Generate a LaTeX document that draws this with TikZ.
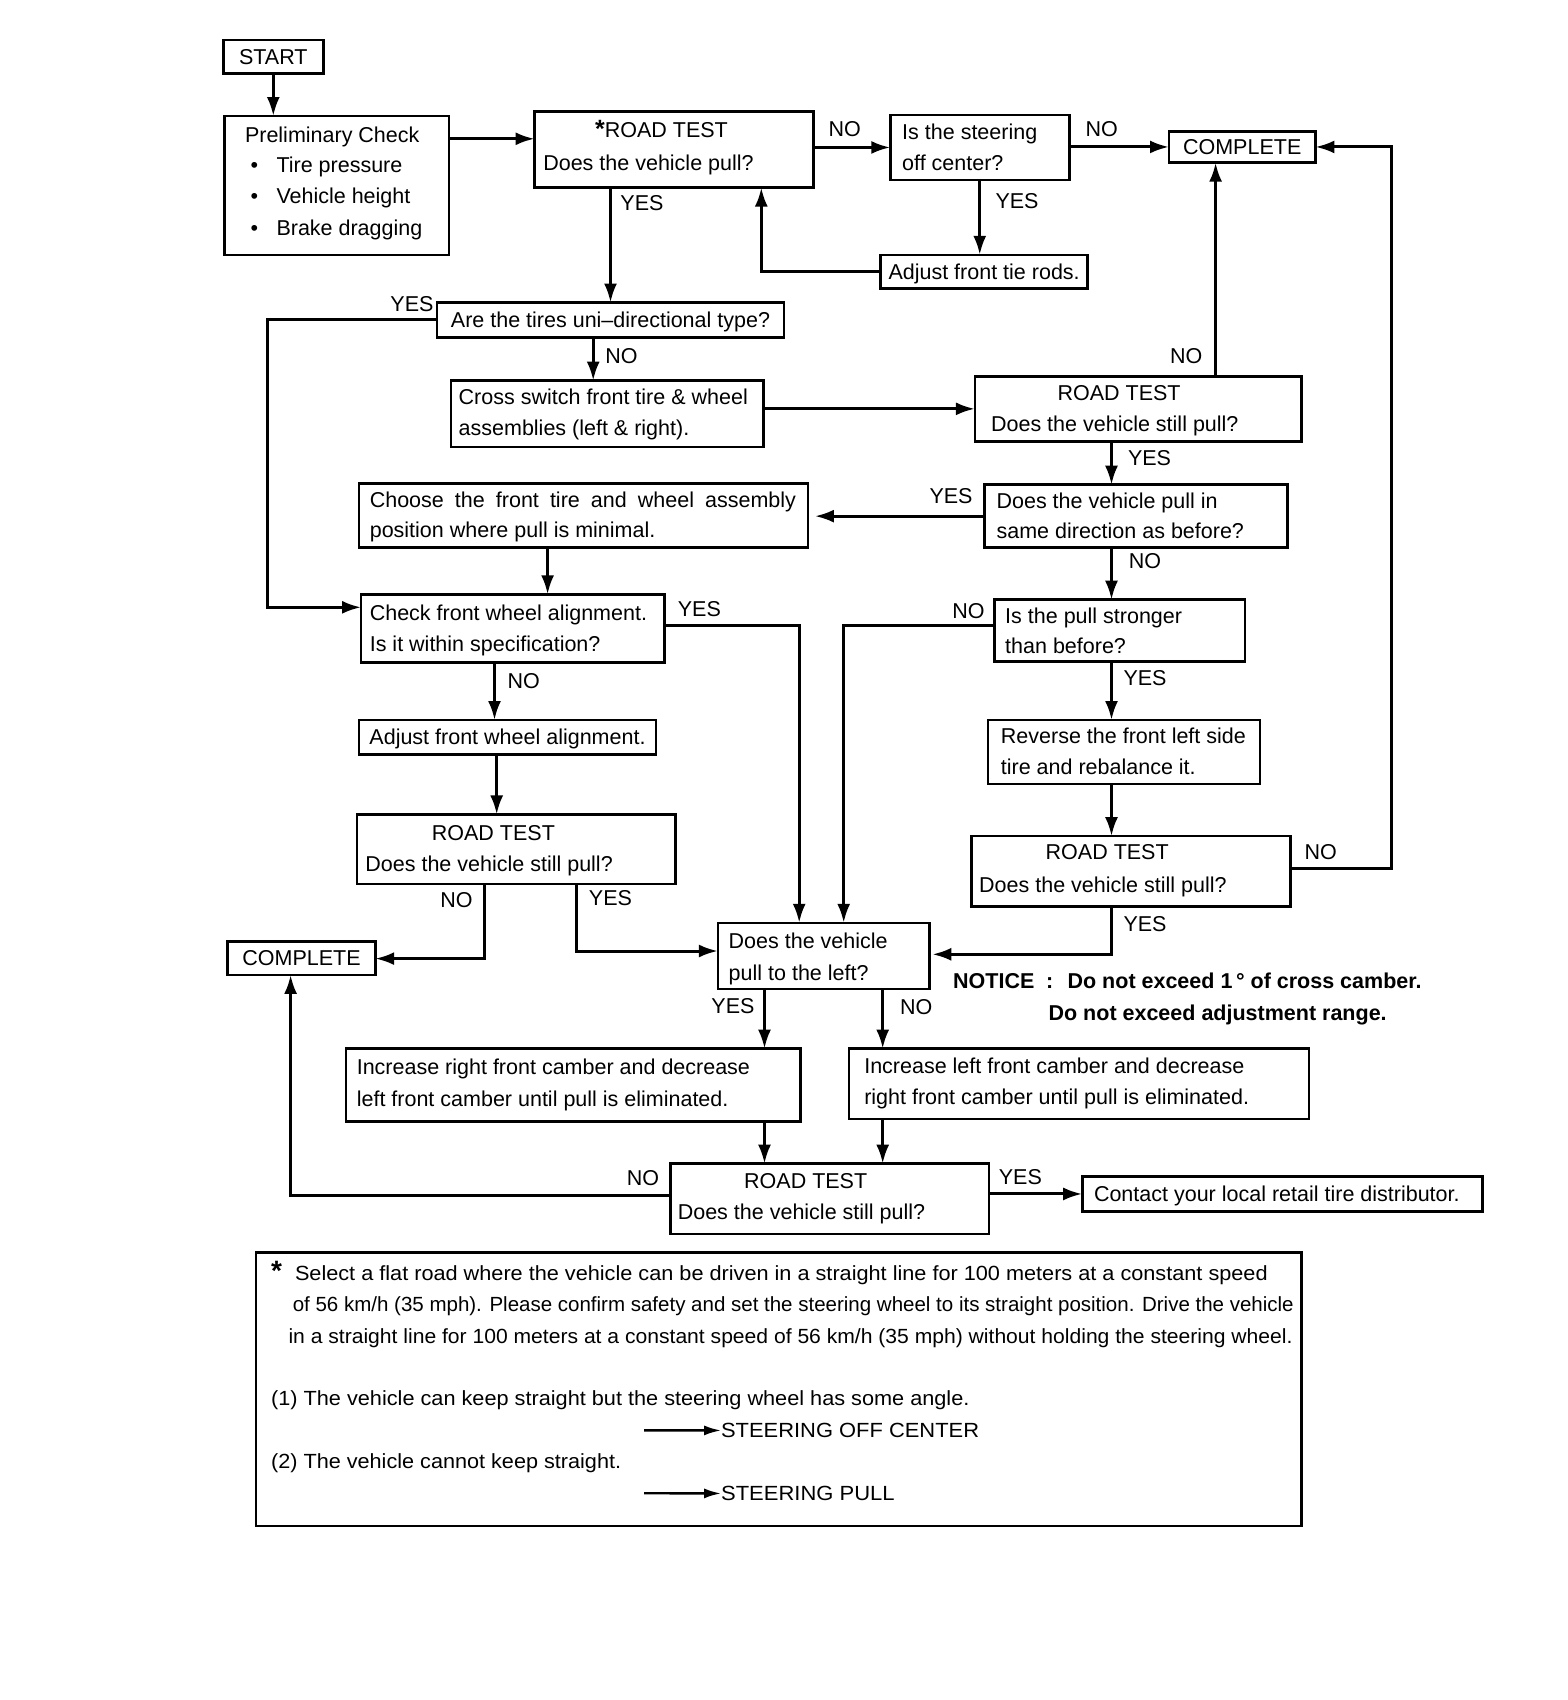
\documentclass[tikz,border=0pt]{standalone}
\usepackage{fontspec}
\setmainfont{Liberation Sans}
\usepackage{graphicx}
\usetikzlibrary{arrows.meta}
\newcommand\mainf{\fontsize{21.5}{26}\selectfont}
\newcommand\footf{\fontsize{20.5}{24}\selectfont}
\newcommand\bx[5]{\node[box, minimum width={#4-#2}, minimum height={#5-#3}] (#1) at ({(#2+#4)/2},{(#3+#5)/2}) {};}
\newcommand\tx[4]{\node[txt] (#1) at (#2,#3) {#4};}
\newcommand\tc[4]{\node[txt,anchor=base] (#1) at (#2,#3) {#4};}
\begin{document}
\begin{tikzpicture}[x=1pt, y=-1pt,
  every node/.style={font=\mainf},
  box/.style={draw, line width=2.6pt, inner sep=0pt, outer sep=0pt},
  txt/.style={inner sep=0pt, outer sep=0pt, anchor=base west},
  arr/.style={line width=3pt, -{Latex[length=19pt,width=13pt]}},
  farr/.style={line width=2.4pt, -{Latex[length=17pt,width=10pt]}}]
\useasboundingbox[fill=white] (0,0) rectangle (1568,1700);

% ---------- boxes ----------
\bx{start}{223.4}{40.1}{323.2}{73.7}
\bx{prelim}{224.5}{116}{448.9}{254.8}
\bx{rt1}{534.6}{111.7}{813.3}{187.6}
\bx{steer}{890.3}{114.9}{1069.2}{180}
\bx{compT}{1169}{131.2}{1315.4}{162.7}
\bx{tie}{880.5}{254.8}{1087.7}{288.5}
\bx{uni}{437}{302.5}{784}{337.2}
\bx{cross}{451.1}{380.6}{763.4}{446.8}
\bx{rt2}{974.9}{376.3}{1301.3}{441.4}
\bx{same}{984.6}{484.7}{1287.2}{547.6}
\bx{choose}{358.9}{483.6}{807.9}{547.6}
\bx{check}{361.1}{594.3}{664.7}{662.6}
\bx{adjal}{358.9}{720}{656.1}{754.7}
\bx{rt3}{356.8}{814.4}{675.6}{883.8}
\bx{compL}{227.7}{941.3}{375.2}{974.9}
\bx{pleft}{717.9}{922.8}{929.3}{989}
\bx{strong}{994.4}{599.7}{1244.9}{661.5}
\bx{rev}{987.9}{720}{1260.1}{784}
\bx{rt4}{971.6}{836.1}{1290.4}{906.6}
\bx{incR}{345.9}{1048.6}{800.3}{1121.3}
\bx{incL}{849.1}{1048.6}{1308.9}{1119.1}
\bx{rt5}{670.2}{1163.6}{989}{1234}
\bx{contact}{1082.2}{1176.6}{1482.4}{1211.3}
\bx{foot}{255.9}{1252.5}{1301.3}{1525.8}

% ---------- texts ----------
\tc{tStart}{273.3}{64.5}{START}
\tx{tPre}{245}{142}{Preliminary Check}
\tx{b1}{250.5}{172.3}{\textbullet}\tx{tP1}{276.5}{172.3}{Tire pressure}
\tx{b2}{250.5}{203.8}{\textbullet}\tx{tP2}{276.5}{203.8}{Vehicle height}
\tx{b3}{250.5}{235.2}{\textbullet}\tx{tP3}{276.5}{235.2}{Brake dragging}
\tc{tR1a}{661.5}{137.5}{{\fontsize{25}{25}\selectfont\bfseries *}ROAD TEST}
\tx{tR1b}{543.3}{170.2}{Does the vehicle pull?}
\tc{lNo1}{844.7}{136.5}{NO}
\tx{tSt1}{902.2}{139.8}{Is the steering}
\tx{tSt2}{902.2}{170.2}{off center?}
\tc{lNo2}{1101.8}{136.5}{NO}
\tc{tCompT}{1242.2}{154.5}{COMPLETE}
\tc{lYes1}{1017}{208.1}{YES}
\tc{tTie}{984.1}{279.2}{Adjust front tie rods.}
\tc{lYes2}{642}{210.3}{YES}
\tc{tUni}{610.5}{327.4}{Are the tires uni–directional type?}
\tc{lYes3}{412}{311.1}{YES}
\tc{lNo3}{621.4}{363.2}{NO}
\tx{tCr1}{458.7}{404.4}{Cross switch front tire \& wheel}
\tx{tCr2}{458.7}{435.8}{assemblies (left \& right).}
\tc{tR2a}{1119.1}{400.1}{ROAD TEST}
\tx{tR2b}{991.1}{431.5}{Does the vehicle still pull?}
\tc{lNo4}{1186.3}{363.2}{NO}
\tc{lYes4}{1149.5}{465.1}{YES}
\tx{tSa1}{996.6}{508.5}{Does the vehicle pull in}
\tx{tSa2}{996.6}{538.9}{same direction as before?}
\tc{lYes5}{951}{503.1}{YES}
\tx{tCh1}{369.8}{507.4}{\makebox[426.2pt][s]{Choose the front tire and wheel assembly}}
\tx{tCh2}{369.8}{537.8}{position where pull is minimal.}
\tx{tCk1}{369.8}{620.2}{Check front wheel alignment.}
\tx{tCk2}{369.8}{651.6}{Is it within specification?}
\tc{lYes6}{699.4}{616.9}{YES}
\tc{lNo5}{523.8}{688.5}{NO}
\tc{tAdj}{507.5}{744.9}{Adjust front wheel alignment.}
\tc{tR3a}{493.4}{840.3}{ROAD TEST}
\tx{tR3b}{365.4}{871.8}{Does the vehicle still pull?}
\tc{lNo6}{456.5}{907.5}{NO}
\tc{lYes7}{610.5}{905.4}{YES}
\tc{tCompL}{301.5}{965.6}{COMPLETE}
\tx{tL1}{728.7}{948.8}{Does the vehicle}
\tx{tL2}{728.7}{980.2}{pull to the left?}
\tx{tSg1}{1005.2}{623.5}{Is the pull stronger}
\tx{tSg2}{1005.2}{653.8}{than before?}
\tc{lNo7}{1145}{568.1}{NO}
\tc{lNo8}{968.4}{618}{NO}
\tc{lYes8}{1145}{685.3}{YES}
\tx{tRv1}{1000.9}{743.8}{Reverse the front left side}
\tx{tRv2}{1000.9}{774.2}{tire and rebalance it.}
\tc{tR4a}{1107.2}{859.8}{ROAD TEST}
\tx{tR4b}{979.2}{892.4}{Does the vehicle still pull?}
\tc{lNo9}{1320.8}{859.8}{NO}
\tc{lYes9}{1145}{931.4}{YES}
\tx{tN1}{953.2}{988.9}{\bfseries NOTICE}
\tx{tN2}{1046}{988.9}{\bfseries :}
\tx{tN3}{1067.6}{988.9}{\bfseries Do not exceed 1\,° of cross camber.}
\tx{tN4}{1048.6}{1020.3}{\bfseries Do not exceed adjustment range.}
\tc{lYes10}{733}{1013.8}{YES}
\tc{lNo10}{916.3}{1014.9}{NO}
\tx{tIR1}{356.8}{1074.5}{Increase right front camber and decrease}
\tx{tIR2}{356.8}{1106}{left front camber until pull is eliminated.}
\tx{tIL1}{864.3}{1073.5}{Increase left front camber and decrease}
\tx{tIL2}{864.3}{1104.9}{right front camber until pull is eliminated.}
\tc{tR5a}{805.7}{1188.4}{ROAD TEST}
\tx{tR5b}{677.8}{1219.9}{Does the vehicle still pull?}
\tc{lNo11}{643}{1185.2}{NO}
\tc{lYes11}{1020.4}{1184.1}{YES}
\tx{tCon}{1094}{1201.5}{Contact your local retail tire distributor.}

% footnote
\node[txt, anchor=base, font=\fontsize{28}{28}\selectfont\bfseries] (ast) at (276.5,1280) {*};
\tx{f1}{295}{1280.1}{\footf\resizebox{972.7pt}{\height}{Select a flat road where the vehicle can be driven in a straight line for 100 meters at a constant speed}}
\tx{f2}{292.8}{1311.5}{\footf\resizebox{1000.9pt}{\height}{of 56 km/h (35 mph). Please confirm safety and set the steering wheel to its straight position. Drive the vehicle}}
\tx{f3}{288.5}{1343}{\footf\resizebox{1004.1pt}{\height}{in a straight line for 100 meters at a constant speed of 56 km/h (35 mph) without holding the steering wheel.}}
\tx{f4}{271.1}{1405.9}{\footf\resizebox{698.4pt}{\height}{(1) The vehicle can keep straight but the steering wheel has some angle.}}
\tx{f5}{721.1}{1437.5}{\footf\resizebox{258pt}{\height}{STEERING OFF CENTER}}
\tx{f6}{271.1}{1468.8}{\footf\resizebox{350pt}{\height}{(2) The vehicle cannot keep straight.}}
\tx{f7}{721.1}{1500.5}{\footf\resizebox{173.5pt}{\height}{STEERING PULL}}
\coordinate (fa1) at (644.1,1430.3);
\coordinate (fa2) at (644.1,1493.2);
\draw[farr] (fa1) -- (f5.west);
\draw[farr] (fa2) -- (f7.west);

% ---------- connectors ----------
\coordinate (pR) at (0,138.8);
\coordinate (vTie) at (761.3,272.2);
\coordinate (vYes) at (267.8,607.3);
\coordinate (xUC) at (593.2,0);
\coordinate (xR2N) at (1215.6,0);
\coordinate (xC) at (1111.5,0);
\coordinate (xCh) at (547.6,0);
\coordinate (cY) at (799.2,625.7);
\coordinate (xCkN) at (494.5,0);
\coordinate (xAd) at (496.7,0);
\coordinate (r3N) at (484.7,958.6);
\coordinate (r3Y) at (576.9,951);
\coordinate (sN) at (843.7,625.7);
\coordinate (r4N) at (1391.3,868.6);
\coordinate (r4Y) at (1111.5,954.3);
\coordinate (xLY) at (764.5,0);
\coordinate (xLN) at (882.7,0);
\coordinate (r5N) at (290.6,1195);

\draw[arr] (start.south) -- (start.south |- prelim.north);
\draw[arr] (prelim.east |- pR) -- (rt1.west |- pR);
\draw[arr] (rt1.east |- steer.west) -- (steer.west);
\draw[arr] (steer.east |- compT.west) -- (compT.west);
\draw[arr] (steer.south) -- (steer.south |- tie.north);
\draw[arr] (tie.west) -- (tie.west -| vTie) -- (rt1.south -| vTie);
\draw[arr] (rt1.south -| uni.north) -- (uni.north);
\draw[arr] (uni.west) -| (vYes) -- (check.west |- vYes);
\draw[arr] (uni.south -| xUC) -- (cross.north -| xUC);
\draw[arr] (cross.east |- rt2.west) -- (rt2.west);
\draw[arr] (rt2.north -| xR2N) -- (compT.south -| xR2N);
\draw[arr] (rt2.south -| xC) -- (same.north -| xC);
\draw[arr, shorten >=7pt] (same.west) -- (choose.east |- same.west);
\draw[arr] (choose.south -| xCh) -- (check.north -| xCh);
\draw[arr] (check.east |- cY) -- (cY) -- (pleft.north -| cY);
\draw[arr] (check.south -| xCkN) -- (adjal.north -| xCkN);
\draw[arr] (adjal.south -| xAd) -- (rt3.north -| xAd);
\draw[arr] (rt3.south -| r3N) -- (r3N) -- (compL.east |- r3N);
\draw[arr] (rt3.south -| r3Y) -- (r3Y) -- (pleft.west |- r3Y);
\draw[arr] (same.south -| xC) -- (strong.north -| xC);
\draw[arr] (strong.west |- sN) -- (sN) -- (pleft.north -| sN);
\draw[arr] (strong.south -| xC) -- (rev.north -| xC);
\draw[arr] (rev.south -| xC) -- (rt4.north -| xC);
\draw[arr] (rt4.east |- r4N) -- (r4N) |- (compT.east);
\draw[arr, shorten >=3pt] (rt4.south -| r4Y) -- (r4Y) -- (pleft.east |- r4Y);
\draw[arr] (pleft.south -| xLY) -- (incR.north -| xLY);
\draw[arr] (pleft.south -| xLN) -- (incL.north -| xLN);
\draw[arr] (incR.south -| xLY) -- (rt5.north -| xLY);
\draw[arr] (incL.south -| xLN) -- (rt5.north -| xLN);
\draw[arr] (rt5.west |- r5N) -- (r5N) -- (compL.south -| r5N);
\draw[arr] (rt5.east |- contact.west) -- (contact.west);
\end{tikzpicture}
\end{document}
